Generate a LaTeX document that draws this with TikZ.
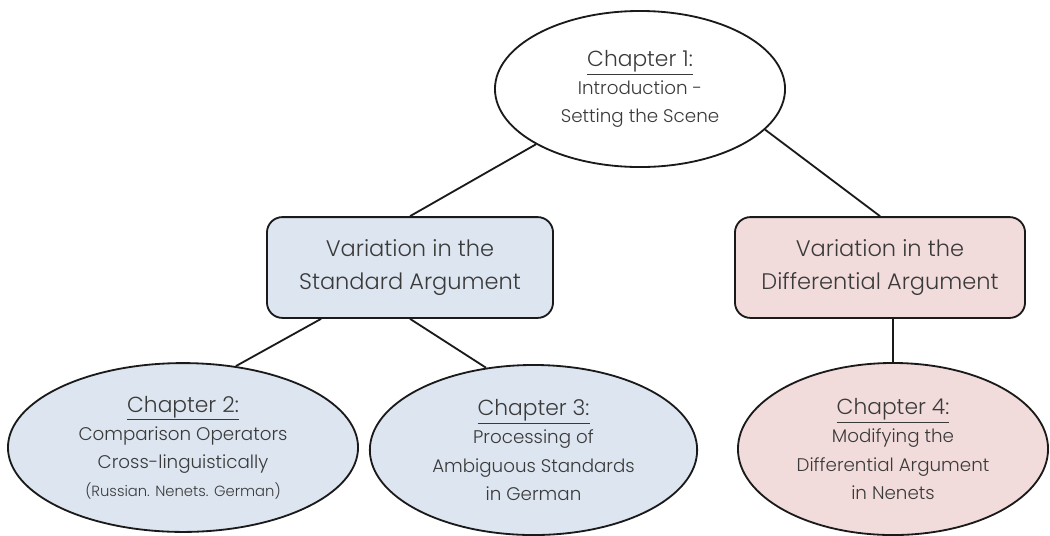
\documentclass[tikz,border=0pt]{standalone}
\usepackage{fontspec}
\IfFontExistsTF{Poppins Light}{\setmainfont{Poppins Light}}{%
  \IfFontExistsTF{Lato Light}{\setmainfont{Lato Light}}{\setmainfont{Liberation Sans}}}
\usetikzlibrary{shapes}
\definecolor{linec}{HTML}{1A1A1A}
\definecolor{textc}{HTML}{3A3A3A}
\definecolor{bluef}{HTML}{DCE5F0}
\definecolor{pinkf}{HTML}{F2DCDB}

\begin{document}
\begin{tikzpicture}[x=0.025cm,y=-0.025cm]
\tikzstyle{chap} = [ellipse,draw=linec,line width=1.3pt,align=center,text=textc,inner sep=0pt,
  font={\fontsize{13}{20}\selectfont}]
\tikzstyle{part} = [rectangle,rounded corners=11pt,draw=linec,line width=1.3pt,align=center,text=textc,
  minimum width=7.15cm,minimum height=2.52cm,font={\fontsize{16}{23}\selectfont}]
\tikzstyle{link} = [draw=linec,line width=1.3pt]
\def\chap#1{{\fontsize{15.5}{20}\selectfont\underline{Chapter #1:}}}
\useasboundingbox (0,0) rectangle (1050,535);
% chapter one on top
\node[chap,minimum width=7.25cm,minimum height=3.9cm] (intro) at (640,89)
  {\chap{1}\\Introduction -\\Setting the Scene};
% the two parts
\node[part,fill=bluef] (std) at (410,267.5) {Variation in the\\Standard Argument};
\node[part,fill=pinkf,minimum width=7.25cm] (diff) at (880,267.5) {Variation in the\\Differential Argument};
% chapters two to four
\node[chap,fill=bluef,minimum width=8.75cm,minimum height=4.22cm] (ops) at (183,447.5)
  {\chap{2}\\Comparison Operators\\Cross-linguistically\\{\fontsize{10.5}{20}\selectfont(Russian. Nenets. German)}};
\node[chap,fill=bluef,minimum width=8.18cm,minimum height=4.25cm] (proc) at (533.5,450)
  {\chap{3}\\Processing of\\Ambiguous Standards\\in German};
\node[chap,fill=pinkf,minimum width=7.75cm,minimum height=4.3cm] (nenets) at (893,449)
  {\chap{4}\\Modifying the\\Differential Argument\\in Nenets};
\draw[link] (intro.208) -- (std.north);
\draw[link] (intro.-18) -- (diff.north);
\draw[link] (std.210) -- (ops.57);
\draw[link] (std.south) -- (proc.120);
\draw[link] (nenets.north |- diff.south) -- (nenets.north);
\end{tikzpicture}
\end{document}
